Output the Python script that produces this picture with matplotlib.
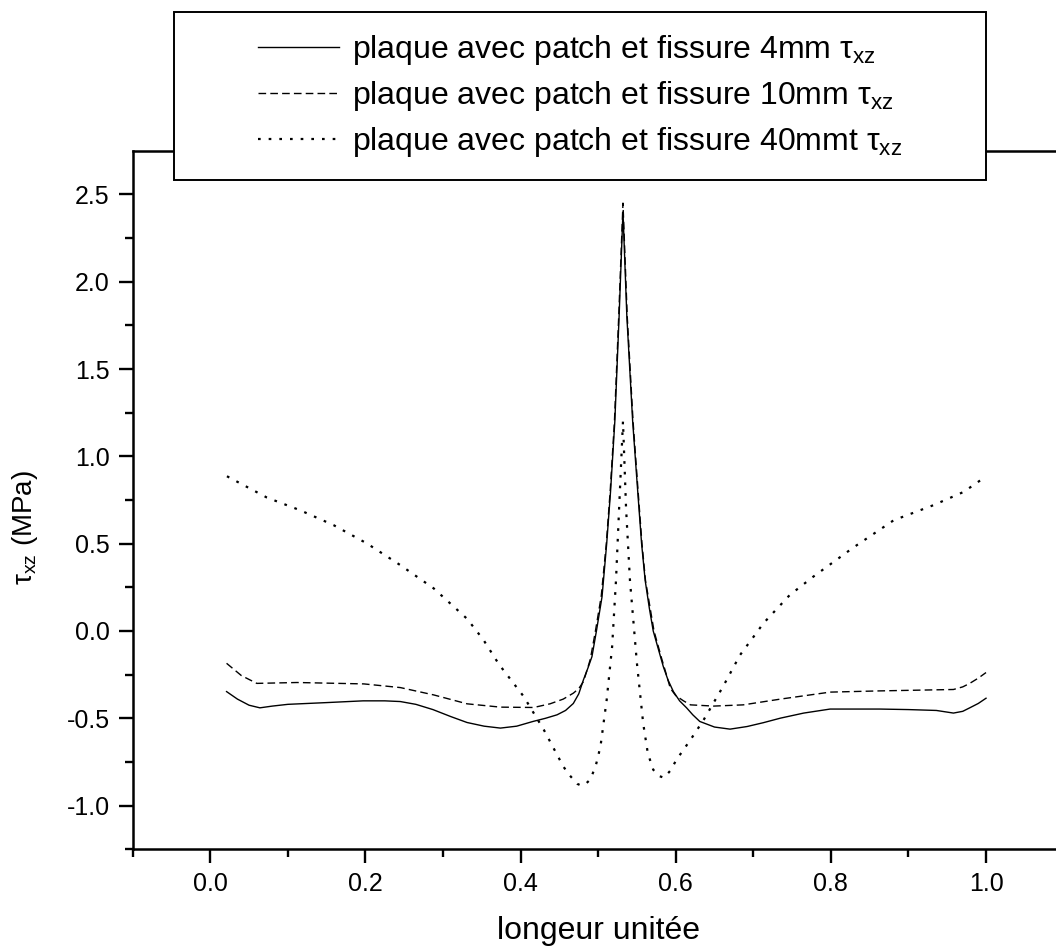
import matplotlib
matplotlib.use("Agg")
import matplotlib.pyplot as plt
from matplotlib.ticker import FixedLocator, FormatStrFormatter
from matplotlib.patches import Rectangle

plt.rcParams['font.family'] = ['Liberation Sans', 'DejaVu Sans']
plt.rcParams['mathtext.fontset'] = 'custom'
plt.rcParams['mathtext.rm'] = 'Liberation Sans'
plt.rcParams['mathtext.it'] = 'Liberation Sans'
plt.rcParams['mathtext.bf'] = 'Liberation Sans:bold'

# --- data: shear stress tau_xz along the normalised length ---
x_4mm = [0.021, 0.035, 0.05, 0.064, 0.08, 0.10, 0.15, 0.197, 0.225, 0.245,
         0.265, 0.287, 0.31, 0.331, 0.353, 0.374, 0.395, 0.416, 0.432, 0.447,
         0.458, 0.468, 0.475, 0.481, 0.487, 0.492, 0.498, 0.505, 0.511, 0.516,
         0.5215, 0.527, 0.532, 0.537, 0.5445, 0.551, 0.556, 0.5606, 0.566, 0.571,
         0.578, 0.584, 0.590, 0.597, 0.605, 0.614, 0.622, 0.631, 0.650, 0.670,
         0.692, 0.713, 0.735, 0.765, 0.799, 0.863, 0.90, 0.936, 0.958, 0.970,
         0.979, 0.99, 1.0]
y_4mm = [-0.347, -0.39, -0.425, -0.44, -0.43, -0.42, -0.41, -0.40, -0.40, -0.404,
         -0.42, -0.45, -0.49, -0.524, -0.545, -0.556, -0.545, -0.518, -0.50, -0.48,
         -0.455, -0.415, -0.36, -0.28, -0.21, -0.147, 0.006, 0.196, 0.50, 0.80,
         1.20, 1.80, 2.40, 1.80, 1.20, 0.80, 0.50, 0.29, 0.13, 0.0,
         -0.11, -0.204, -0.28, -0.347, -0.40, -0.44, -0.48, -0.518, -0.55, -0.562,
         -0.547, -0.525, -0.499, -0.47, -0.447, -0.447, -0.45, -0.455, -0.47, -0.46,
         -0.44, -0.415, -0.385]

x_10mm = [0.021, 0.04, 0.06, 0.112, 0.198, 0.245, 0.288, 0.331, 0.374, 0.417,
          0.438, 0.455, 0.468, 0.475, 0.481, 0.486, 0.490, 0.4965, 0.504, 0.5105,
          0.5155, 0.521, 0.5265, 0.532, 0.5375, 0.545, 0.5515, 0.5565, 0.561, 0.572,
          0.582, 0.588, 0.593, 0.60, 0.61, 0.619, 0.649, 0.687, 0.735, 0.799,
          0.863, 0.958, 0.970, 0.979, 0.99, 1.0]
y_10mm = [-0.185, -0.255, -0.30, -0.295, -0.303, -0.324, -0.366, -0.417, -0.436, -0.438,
          -0.417, -0.39, -0.356, -0.33, -0.29, -0.22, -0.16, 0.0, 0.2, 0.50,
          0.80, 1.20, 1.80, 2.45, 1.80, 1.20, 0.80, 0.50, 0.29, 0.0,
          -0.16, -0.25, -0.328, -0.37, -0.40, -0.423, -0.43, -0.423, -0.39, -0.35,
          -0.343, -0.335, -0.32, -0.30, -0.27, -0.238]

x_40mm = [0.0215, 0.073, 0.116, 0.159, 0.202, 0.245, 0.288, 0.331, 0.352, 0.372,
          0.404, 0.43, 0.455, 0.462, 0.468, 0.473, 0.478, 0.484, 0.49, 0.497,
          0.503, 0.511, 0.518, 0.523, 0.527, 0.532, 0.536, 0.541, 0.55, 0.558,
          0.564, 0.571, 0.578, 0.585, 0.593, 0.601, 0.619, 0.636, 0.661, 0.683,
          0.702, 0.713, 0.747, 0.777, 0.829, 0.881, 0.932, 0.971, 1.0]
y_40mm = [0.886, 0.764, 0.691, 0.606, 0.501, 0.377, 0.244, 0.07, -0.05, -0.19,
          -0.375, -0.566, -0.775, -0.82, -0.85, -0.875, -0.885, -0.875, -0.85, -0.77,
          -0.661, -0.394, -0.09, 0.29, 0.70, 1.20, 0.70, 0.29, -0.185, -0.527,
          -0.70, -0.794, -0.83, -0.84, -0.80, -0.737, -0.623, -0.509, -0.318, -0.137,
          -0.023, 0.044, 0.206, 0.31, 0.478, 0.634, 0.72, 0.796, 0.885]

labels = ["plaque avec patch et fissure 4mm τ$_{\\mathrm{xz}}$",
          "plaque avec patch et fissure 10mm τ$_{\\mathrm{xz}}$",
          "plaque avec patch et fissure 40mmt τ$_{\\mathrm{xz}}$"]

x_major = [0.0, 0.2, 0.4, 0.6, 0.8, 1.0]
x_minor = [-0.1, 0.1, 0.3, 0.5, 0.7, 0.9, 1.1]
y_major = [-1.0, -0.5, 0.0, 0.5, 1.0, 1.5, 2.0, 2.5]
y_minor = [-1.25, -0.75, -0.25, 0.25, 0.75, 1.25, 1.75, 2.25]

# --- figure ---
W, H = 1056, 952
fig = plt.figure(figsize=(W / 100, H / 100), dpi=100)
left, right, top, bottom = 132.7, 1063.6, 150.7, 849.3
ax = fig.add_axes([left / W, 1 - bottom / H, (right - left) / W, (bottom - top) / H])

l1, = ax.plot(x_4mm, y_4mm, color='black', lw=1.0, linestyle='-')
l2, = ax.plot(x_10mm, y_10mm, color='black', lw=1.0, linestyle=(0, (5.5, 3.0)))
l3, = ax.plot(x_40mm, y_40mm, color='black', lw=1.6, linestyle=(0, (1.2, 3.6)))

ax.set_xlim(-0.1, 1.1)
ax.set_ylim(-1.25, 2.75)

ax.xaxis.set_major_locator(FixedLocator(x_major))
ax.xaxis.set_minor_locator(FixedLocator(x_minor))
ax.yaxis.set_major_locator(FixedLocator(y_major))
ax.yaxis.set_minor_locator(FixedLocator(y_minor))
ax.xaxis.set_major_formatter(FormatStrFormatter('%.1f'))
ax.yaxis.set_major_formatter(FormatStrFormatter('%.1f'))

ax.tick_params(which='both', direction='out', width=1.7, top=False, right=False,
               labelsize=18, pad=6.5)
ax.tick_params(which='major', length=10)
ax.tick_params(which='minor', length=5.8)
for s in ax.spines.values():
    s.set_linewidth(1.8)

ax.set_xlabel('longeur unitée', fontsize=23)
ax.set_ylabel('τ$_{\\mathrm{xz}}$ (MPa)', fontsize=20)
ax.xaxis.set_label_coords(0.5, -0.095)
ax.yaxis.set_label_coords(-0.0996, 0.46)

# legend box sitting over the top of the frame
box_l, box_t, box_r, box_b = 174, 12, 986, 180
fig.add_artist(Rectangle((box_l / W, 1 - box_b / H), (box_r - box_l) / W,
                         (box_b - box_t) / H, transform=fig.transFigure,
                         facecolor='white', edgecolor='black', lw=1.4, zorder=3))
fig.legend([l1, l2, l3], labels, loc='center',
           bbox_to_anchor=((box_l + box_r) / 2 / W, 1 - (box_t + box_b) / 2 / H),
           frameon=False, fontsize=23, handlelength=2.54, handletextpad=0.38,
           labelspacing=0.37, borderpad=0.0)

fig.savefig('out.png', dpi=100)
